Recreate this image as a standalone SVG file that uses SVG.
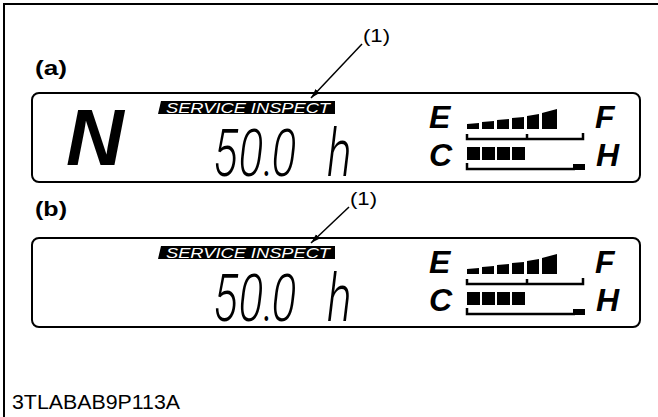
<svg xmlns="http://www.w3.org/2000/svg" width="658" height="417" viewBox="0 0 658 417">
<style>
.frame{fill:none;stroke:#000;stroke-width:2}
.panel{fill:#fff;stroke:#000;stroke-width:2}
.lbl{font-family:"Liberation Sans",Arial,sans-serif;font-weight:bold;font-size:20px;fill:#000}
.num{font-family:"Liberation Sans",Arial,sans-serif;font-size:18px;fill:#000}
.code{font-family:"Liberation Sans",Arial,sans-serif;font-size:20px;fill:#000}
.svc{font-family:"Liberation Sans",Arial,sans-serif;font-style:italic;font-size:15.5px;fill:#fff}
.gl{font-family:"Liberation Sans",Arial,sans-serif;font-style:italic;font-weight:bold;font-size:32px;fill:#000}
.gear{font-family:"Liberation Sans",Arial,sans-serif;font-style:italic;font-weight:bold;font-size:80px;fill:#000}
.seg{font-family:Roboto,"DejaVu Sans",sans-serif;font-style:italic;font-weight:300;font-size:66px;fill:#000}
.dot{font-size:34px;font-weight:700}
.lead{stroke:#000;stroke-width:1.5;fill:none}
.brk{fill:none;stroke:#000;stroke-width:2.5}
</style>
<defs>
<marker id="ah" viewBox="0 0 12 10" refX="12" refY="5" markerWidth="10" markerHeight="8" markerUnits="userSpaceOnUse" orient="auto">
<path d="M0,1.5 L12,5 L0,8.5 z" fill="#000"/>
</marker>
</defs>
<rect width="658" height="417" fill="#fff"/>
<path class="frame" d="M4,417 V4 H658"/>

<g id="label-a"><text class="lbl" x="35" y="75" textLength="32" lengthAdjust="spacingAndGlyphs">(a)</text></g>
<g id="label-b"><text class="lbl" x="35" y="216" textLength="32" lengthAdjust="spacingAndGlyphs">(b)</text></g>

<g id="callout-a"><text class="num" x="363" y="42" textLength="27" lengthAdjust="spacingAndGlyphs">(1)</text></g>
<g id="callout-b"><text class="num" x="350" y="205" textLength="27" lengthAdjust="spacingAndGlyphs">(1)</text></g>

<g id="panel-a">
<rect class="panel" x="32" y="93" width="608" height="89" rx="7"/>
<text class="gear" x="66" y="165">N</text>
<polygon points="161,101 335,101 335,114 158,114" fill="#000"/>
<text class="svc" x="166" y="113" textLength="164" lengthAdjust="spacingAndGlyphs">SERVICE INSPECT</text>
<text class="seg" transform="translate(213 176) scale(0.7 1)" letter-spacing="1">50<tspan class="dot">.</tspan>0</text>
<text class="seg" transform="translate(327 176) scale(0.7 1)">h</text>
<text class="gl" x="429" y="128">E</text>
<text class="gl" x="429" y="166">C</text>
<text class="gl" x="595" y="128">F</text>
<text class="gl" x="596" y="166">H</text>
<path d="M467,124 L479,123 L479,129 L467,129 Z M482,122 L494,121 L494,129 L482,129 Z M497,120 L509,119 L509,129 L497,129 Z M512,118 L524,117 L524,129 L512,129 Z M527,116 L539,114 L539,129 L527,129 Z M542,113 L557,109 L557,129 L542,129 Z" fill="#000"/>
<path class="brk" d="M467,134 V139 H583 V133 M527,139 V134"/>
<path d="M467,147 H480 V160 H467 Z M482,147 H495 V160 H482 Z M497,147 H510 V160 H497 Z M512,147 H525 V160 H512 Z" fill="#000"/>
<path class="brk" d="M467,163 V169 H575"/>
<rect x="573" y="164" width="12" height="6" fill="#000"/>
</g>

<g id="panel-b">
<rect class="panel" x="32" y="238" width="608" height="89" rx="7"/>
<polygon points="161,246 335,246 335,259 158,259" fill="#000"/>
<text class="svc" x="166" y="258" textLength="164" lengthAdjust="spacingAndGlyphs">SERVICE INSPECT</text>
<text class="seg" transform="translate(213 321) scale(0.7 1)" letter-spacing="1">50<tspan class="dot">.</tspan>0</text>
<text class="seg" transform="translate(327 321) scale(0.7 1)">h</text>
<text class="gl" x="429" y="273">E</text>
<text class="gl" x="429" y="311">C</text>
<text class="gl" x="595" y="273">F</text>
<text class="gl" x="596" y="311">H</text>
<path d="M467,269 L479,268 L479,274 L467,274 Z M482,267 L494,266 L494,274 L482,274 Z M497,265 L509,264 L509,274 L497,274 Z M512,263 L524,262 L524,274 L512,274 Z M527,261 L539,259 L539,274 L527,274 Z M542,258 L557,254 L557,274 L542,274 Z" fill="#000"/>
<path class="brk" d="M467,279 V284 H583 V278 M527,284 V279"/>
<path d="M467,292 H480 V305 H467 Z M482,292 H495 V305 H482 Z M497,292 H510 V305 H497 Z M512,292 H525 V305 H512 Z" fill="#000"/>
<path class="brk" d="M467,308 V314 H575"/>
<rect x="573" y="309" width="12" height="6" fill="#000"/>
</g>

<g id="connectors">
<line class="lead" x1="362" y1="44" x2="311" y2="98" marker-end="url(#ah)"/>
<line class="lead" x1="349" y1="207" x2="311" y2="243" marker-end="url(#ah)"/>
</g>

<g id="code"><text class="code" x="12" y="409" textLength="168" lengthAdjust="spacingAndGlyphs">3TLABAB9P113A</text></g>
</svg>
